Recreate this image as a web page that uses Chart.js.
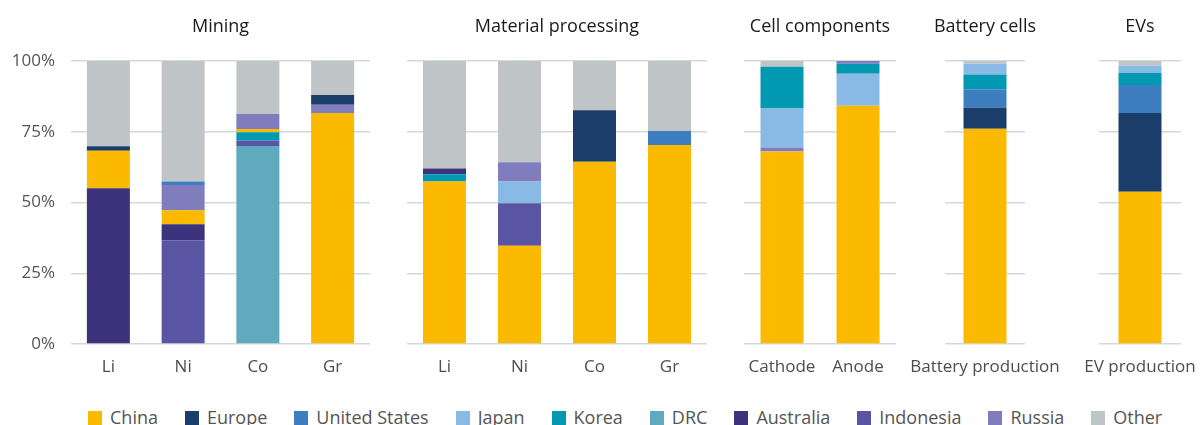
<!DOCTYPE html>
<html><head><meta charset="utf-8">
<script src="https://cdn.jsdelivr.net/npm/chart.js@4.4.1/dist/chart.umd.min.js"></script>
<style>
html,body{margin:0;padding:0;background:#fff;width:1201px;height:425px;overflow:hidden;font-family:'Open Sans',sans-serif}
canvas.panel{position:absolute;top:0}
#legend{position:absolute;left:88px;top:408px;display:flex;gap:27px;font-size:18px;line-height:18px;color:#555;white-space:nowrap}
.item{display:flex;align-items:flex-start}
.sw{width:14px;height:14px;margin-top:3px;margin-right:8px}
</style></head><body>
<div id="legend"></div>
<script>
// ---- series ----
const countries = ['China','Europe','United States','Japan','Korea','DRC','Australia','Indonesia','Russia','Other'];
const countryColors = ['#fbb900','#1b3d69','#3d7ec1','#89bae6','#0099b1','#5faabf','#3d327c','#5955a2','#7f7dbd','#bfc4c6'];

// ---- Mining (each bar: bottom-to-top segments, share in %) ----
const miningCategories = ['Li','Ni','Co','Gr'];
const miningLi = [['Australia',55.0],['China',13.3],['Europe',1.6],['Other',30.1]];
const miningNi = [['Indonesia',36.7],['Australia',5.6],['China',5.0],['Russia',8.9],['United States',1.2],['Other',42.6]];
const miningCo = [['DRC',70.0],['Indonesia',1.9],['Korea',2.9],['China',1.2],['Russia',5.3],['Other',18.7]];
const miningGr = [['China',81.6],['Russia',2.9],['Europe',3.5],['Other',12.0]];

// ---- Material processing ----
const processingCategories = ['Li','Ni','Co','Gr'];
const processingLi = [['China',57.4],['Korea',2.6],['Australia',2.0],['Other',38.0]];
const processingNi = [['China',34.7],['Indonesia',15.0],['Japan',7.7],['Russia',6.8],['Other',35.8]];
const processingCo = [['China',64.4],['Europe',18.2],['Other',17.4]];
const processingGr = [['China',70.3],['United States',5.0],['Other',24.7]];

// ---- Cell components ----
const componentCategories = ['Cathode','Anode'];
const componentCathode = [['China',68.0],['Russia',1.4],['Japan',13.8],['Korea',14.8],['Other',2.0]];
const componentAnode = [['China',84.2],['Japan',11.3],['Korea',3.5],['Russia',1.0]];

// ---- Battery cells ----
const batteryCategories = ['Battery production'];
const batteryProduction = [['China',76.1],['Europe',7.5],['United States',6.4],['Korea',5.2],['Japan',3.8],['Other',1.0]];

// ---- EVs ----
const evCategories = ['EV production'];
const evProduction = [['China',53.8],['Europe',27.8],['United States',9.9],['Korea',4.3],['Japan',2.5],['Other',1.7]];

// ---- y ticks ----
const yTickValues = [0,25,50,75,100];

// ---- layout (positions only) ----
const FONT = "'Open Sans', sans-serif";
const panels = [
  {title:'Mining', cats:miningCategories, bars:[miningLi,miningNi,miningCo,miningGr], left:0, yW:71, areaW:299, padL:0, padR:10, showY:true},
  {title:'Material processing', cats:processingCategories, bars:[processingLi,processingNi,processingCo,processingGr], left:377, yW:0, areaW:300, padL:30, padR:30, showY:false},
  {title:'Cell components', cats:componentCategories, bars:[componentCathode,componentAnode], left:714, yW:0, areaW:152, padL:30, padR:30, showY:false},
  {title:'Battery cells', cats:batteryCategories, bars:[batteryProduction], left:895, yW:0, areaW:80, padL:50, padR:50, showY:false},
  {title:'EVs', cats:evCategories, bars:[evProduction], left:1049, yW:0, areaW:82, padL:50, padR:20, showY:false}
];
const colorOf = name => countryColors[countries.indexOf(name)];
const BAR_PX = 43;

// widen the title box (keeping it centred on the plot area) so long titles are not squeezed
const widenTitle = {
  id: 'widenTitle',
  afterLayout(chart) {
    const t = chart.titleBlock;
    if (!t) return;
    const c = (chart.chartArea.left + chart.chartArea.right) / 2;
    const half = Math.min(c, chart.width - c);
    t.left = c - half; t.right = c + half; t.width = 2 * half;
  }
};

panels.forEach(p => {
  const cv = document.createElement('canvas');
  const w = p.padL + p.yW + p.areaW + p.padR;
  cv.width = w; cv.height = 395;
  cv.className = 'panel';
  cv.style.left = p.left + 'px';
  cv.style.width = w + 'px'; cv.style.height = '395px';
  document.body.appendChild(cv);
  const layers = Math.max(...p.bars.map(b => b.length));
  const datasets = [];
  for (let k = 0; k < layers; k++) {
    datasets.push({
      label: 'layer' + k,
      data: p.bars.map(b => b[k] ? b[k][1] : 0),
      backgroundColor: p.bars.map(b => b[k] ? colorOf(b[k][0]) : 'rgba(0,0,0,0)'),
      borderWidth: 0,
      categoryPercentage: 1,
      barPercentage: BAR_PX / (p.areaW / p.cats.length)
    });
  }
  new Chart(cv, {
    type: 'bar',
    data: {labels: p.cats, datasets},
    plugins: [widenTitle],
    options: {
      responsive: false, animation: false, devicePixelRatio: 1,
      layout: {padding: {left: p.padL, right: p.padR, top: 0, bottom: 0}},
      plugins: {
        legend: {display: false}, tooltip: {enabled: false},
        title: {display: true, text: p.title, fullSize: false, color: '#1a1a1a',
                font: {family: FONT, size: 18, weight: 'normal'}, padding: {top: 16, bottom: 23.4}}
      },
      scales: {
        x: {stacked: true, grid: {display: false, drawTicks: false}, border: {display: false},
            ticks: {font: {family: FONT, size: 17}, color: '#4d4d4d', padding: 13, maxRotation: 0, minRotation: 0, autoSkip: false},
            afterFit: s => { s.height = 51; s.paddingLeft = 0; s.paddingRight = 0; }},
        y: {stacked: true, min: 0, max: 100,
            grid: {color: '#d5d8da', lineWidth: 1.5, drawTicks: false}, border: {display: false},
            afterBuildTicks: s => { s.ticks = yTickValues.map(v => ({value: v})); },
            ticks: {display: p.showY, font: {family: FONT, size: 17}, color: '#555', padding: 16, callback: v => v + '%'},
            afterFit: s => { s.width = p.yW; s.paddingTop = 0; s.paddingBottom = 0; }}
      }
    }
  });
});

// ---- legend ----
const lg = document.getElementById('legend');
countries.forEach((c, i) => {
  const it = document.createElement('div'); it.className = 'item';
  const sw = document.createElement('div'); sw.className = 'sw'; sw.style.background = countryColors[i];
  const tx = document.createElement('span'); tx.textContent = c;
  it.appendChild(sw); it.appendChild(tx); lg.appendChild(it);
});
</script>
</body></html>
